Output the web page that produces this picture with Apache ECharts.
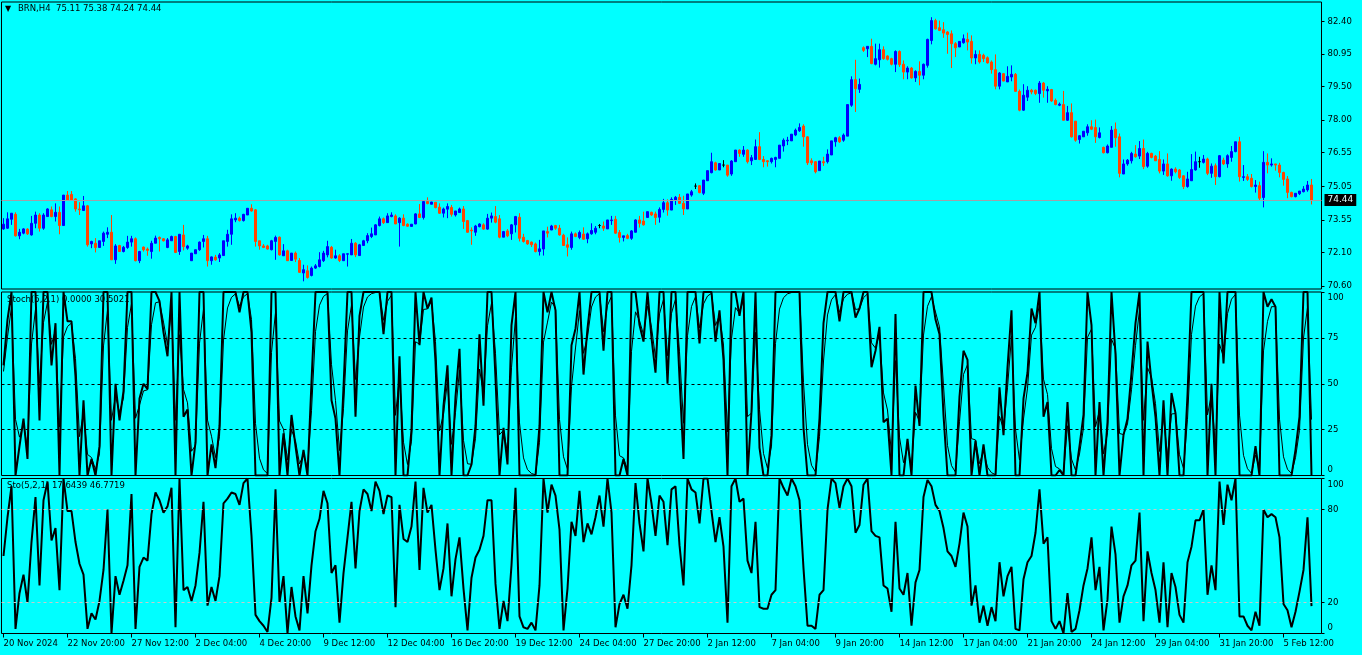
<!DOCTYPE html>
<html><head><meta charset="utf-8">
<script src="https://cdn.jsdelivr.net/npm/echarts@6.0.0/dist/echarts.min.js"></script>
<style>html,body{margin:0;padding:0;background:#00ffff;}#c{width:1362px;height:655px;}</style>
</head><body><div id="c"></div>
<script>
// [open, close, low, high] per H4 bar
const candles = [
[73.15,73.36,73.11,73.63],[73.18,73.60,73.15,73.89],[73.58,73.85,73.33,73.85],[73.80,72.84,72.81,73.89],[72.84,73.00,72.69,73.15],
[72.96,73.15,72.91,73.18],[73.14,72.93,72.88,73.18],[72.88,73.40,72.85,73.73],[73.40,73.77,73.18,73.92],[73.77,73.18,73.03,73.85],
[73.18,73.77,73.11,73.85],[73.70,74.04,73.70,74.07],[74.00,73.70,73.67,74.15],[73.70,73.89,73.48,74.29],[73.89,73.30,72.91,74.15],
[73.30,74.66,73.30,74.66],[74.66,74.44,74.41,74.84],[74.69,74.44,74.44,74.84],[74.49,74.04,73.92,74.52],[74.04,74.00,73.77,74.34],
[73.97,74.18,73.97,74.62],[74.18,72.44,72.36,74.22],[72.48,72.59,72.29,72.62],[72.51,72.32,72.10,72.74],[72.32,72.62,72.32,72.62],
[72.59,72.96,72.39,73.03],[72.91,73.00,72.74,73.22],[73.00,71.77,71.77,73.77],[71.77,72.39,71.59,72.47],[72.41,72.14,72.14,72.44],
[72.14,72.33,72.10,72.39],[72.32,72.56,72.26,72.84],[72.56,72.71,72.36,72.84],[72.71,71.73,71.70,72.77],[71.73,72.14,71.62,72.17],
[72.34,72.22,72.14,72.36],[72.25,72.19,71.95,72.32],[72.14,72.51,71.82,72.62],[72.51,72.74,72.51,72.85],[72.77,72.71,72.14,72.81],
[72.71,72.62,72.59,72.74],[72.32,72.66,72.29,72.74],[72.62,72.81,72.62,72.85],[72.81,72.10,72.07,72.84],[72.14,72.91,71.99,72.91],
[72.88,72.36,72.19,73.33],[72.29,72.39,72.22,72.44],[71.73,72.07,71.73,72.07],[72.04,72.22,72.04,72.22],[72.22,72.56,72.17,72.59],
[72.59,72.71,72.32,72.88],[72.71,71.73,71.47,72.84],[71.73,71.90,71.55,71.92],[71.89,71.77,71.73,71.99],[71.85,71.99,71.67,72.07],
[71.96,72.62,71.96,72.62],[72.59,72.91,72.36,73.11],[72.91,73.60,72.44,73.80],[73.55,73.63,73.45,73.85],[73.63,73.52,73.48,73.70],
[73.52,73.80,73.48,73.82],[73.77,74.07,73.77,74.07],[74.07,73.95,73.92,74.25],[74.00,72.59,72.36,74.04],[72.62,72.39,72.22,72.62],
[72.39,72.32,72.29,72.47],[72.39,72.25,72.22,72.44],[72.22,72.62,72.19,72.66],[72.59,72.77,71.77,72.85],[72.78,71.99,71.96,72.81],
[71.95,72.17,71.95,72.47],[72.17,71.73,71.73,72.22],[71.74,72.07,71.74,72.07],[72.07,71.80,71.67,72.14],[71.74,71.21,71.18,71.85],
[71.18,71.33,70.81,71.55],[71.28,70.98,70.93,71.52],[71.07,71.40,71.03,71.47],[71.40,71.50,71.36,71.58],[71.47,71.77,71.43,72.11],
[71.73,72.07,71.67,72.17],[71.99,72.36,71.88,72.62],[72.33,71.85,71.82,72.39],[71.85,71.95,71.82,72.22],[71.95,71.74,71.67,72.02],
[71.73,72.04,71.73,72.04],[72.02,72.04,71.47,72.05],[71.99,72.51,71.99,72.70],[72.51,71.99,71.89,72.56],[71.96,72.44,71.96,72.48],
[72.41,72.62,72.41,72.66],[72.62,72.85,72.51,72.96],[72.81,72.93,72.74,73.21],[72.88,73.33,72.88,73.36],[73.30,73.60,73.26,73.70],
[73.60,73.43,73.37,73.66],[73.43,73.73,73.43,73.85],[73.70,73.77,73.67,73.89],[73.73,73.37,73.37,73.80],[73.43,73.63,72.36,73.67],
[73.63,73.30,73.27,73.80],[73.36,73.27,73.24,73.40],[73.26,73.36,73.26,73.36],[73.37,73.82,73.36,73.85],[73.82,73.66,73.63,74.26],
[73.66,74.37,73.57,74.44],[74.37,74.28,74.25,74.56],[74.25,74.35,74.25,74.36],[74.34,74.10,74.07,74.34],[74.12,73.85,73.82,74.29],
[73.85,74.04,73.66,74.10],[74.03,74.15,73.63,74.29],[74.11,73.80,73.70,74.22],[73.77,73.95,73.70,73.95],[73.88,74.04,73.86,74.10],
[74.04,73.48,73.15,74.17],[73.52,73.00,72.98,73.55],[73.10,73.06,72.44,73.22],[73.00,73.28,72.84,73.33],[73.25,73.37,73.22,73.40],
[73.33,73.14,73.11,73.40],[73.14,73.63,73.11,73.82],[73.63,73.73,73.43,73.88],[73.70,73.45,73.40,74.17],[73.60,72.78,72.73,73.77],
[72.78,73.03,72.78,73.06],[73.06,72.84,72.78,73.14],[72.93,73.33,72.66,73.37],[73.33,73.70,72.99,73.73],[73.67,72.73,72.59,73.85],
[72.78,72.59,72.54,72.93],[72.63,72.48,72.44,72.66],[72.56,72.44,72.34,72.59],[72.48,72.14,72.10,72.54],[72.14,72.26,71.96,72.66],
[72.25,73.06,71.96,73.06],[73.03,72.96,72.77,73.25],[73.10,73.28,73.10,73.33],[73.30,73.18,73.11,73.33],[73.18,72.88,72.85,73.33],
[72.87,72.41,72.39,72.93],[72.44,72.33,71.92,72.77],[72.32,72.93,72.22,73.03],[72.93,72.81,72.78,72.99],[72.77,72.99,72.69,73.08],
[72.92,72.69,72.66,73.22],[72.71,72.93,72.51,72.99],[72.93,73.08,72.89,73.40],[73.00,73.18,72.91,73.28],[73.30,73.30,73.18,73.37],
[73.28,73.18,73.06,73.48],[73.15,73.55,73.15,73.55],[73.52,73.55,73.33,73.73],[73.58,72.96,72.93,73.73],[72.99,72.77,72.54,73.10],
[72.77,72.84,72.59,72.84],[72.85,72.73,72.69,72.93],[72.73,73.06,72.66,73.10],[73.00,73.55,72.99,73.58],[73.55,73.40,73.21,73.73],
[73.50,73.33,73.30,73.92],[73.66,73.92,73.66,73.92],[73.89,73.77,73.73,73.92],[73.82,73.66,73.33,73.92],[73.67,74.02,73.43,74.11],
[74.02,74.32,73.88,74.49],[74.32,73.99,73.74,74.47],[73.99,74.47,73.99,74.56],[74.44,74.56,74.22,74.62],[74.56,74.29,74.26,74.71],
[74.29,74.04,73.77,74.63],[74.04,74.71,74.04,74.71],[74.66,74.81,74.59,74.89],[75.06,75.06,74.93,75.18],[75.08,74.77,74.74,75.11],
[74.74,75.33,74.66,75.33],[75.30,75.75,75.30,75.75],[75.66,76.15,75.63,76.55],[76.10,75.78,75.75,76.15],[75.78,76.07,75.78,76.07],
[76.00,76.00,75.90,76.22],[76.00,75.55,75.48,76.00],[75.60,76.18,75.52,76.22],[76.15,76.67,76.15,76.67],[76.67,76.52,76.37,76.70],
[76.48,76.67,76.37,76.85],[76.67,76.15,76.07,76.70],[76.19,76.33,76.00,76.45],[76.25,76.82,76.25,77.14],[76.82,76.25,76.22,77.47],
[76.25,76.15,75.90,76.40],[76.19,76.15,75.93,76.22],[76.15,76.30,76.07,76.33],[76.25,76.34,75.90,76.37],[76.30,76.89,76.30,76.89],
[76.85,77.11,76.60,77.19],[77.08,77.11,76.89,77.26],[77.08,77.38,77.08,77.38],[77.34,77.56,77.29,77.63],[77.53,77.68,77.48,77.86],
[77.74,77.26,76.82,77.82],[77.26,76.10,76.00,77.29],[76.19,76.10,76.00,76.30],[76.15,75.70,75.63,76.18],[75.75,76.18,75.75,76.18],
[76.15,76.10,75.96,76.37],[76.15,76.49,76.07,76.70],[76.45,77.08,76.45,77.08],[77.04,77.22,76.82,77.26],[77.22,77.04,76.99,77.29],
[77.11,77.34,77.04,77.41],[77.29,78.70,77.29,78.70],[78.67,79.81,78.60,79.96],[79.81,79.41,78.37,80.70],[79.38,79.60,79.22,79.86],
[81.24,81.12,81.05,81.30],[81.19,81.30,80.82,81.30],[81.30,80.53,80.50,81.64],[80.50,80.75,80.45,81.42],[80.70,81.15,80.35,81.42],
[81.15,80.75,80.70,81.30],[80.87,80.72,80.67,80.90],[80.75,80.50,80.45,80.79],[80.50,81.07,80.15,81.12],[81.07,80.48,80.38,81.12],
[80.50,80.15,79.83,80.67],[80.15,80.33,79.83,80.41],[80.33,79.89,79.86,80.38],[79.89,80.18,79.71,80.23],[80.18,80.01,79.56,80.63],
[80.01,80.50,79.83,80.53],[80.45,81.61,80.35,81.64],[81.56,82.45,81.39,82.60],[82.45,82.08,82.05,82.53],[82.13,82.01,81.98,82.45],
[82.04,81.89,81.68,82.38],[81.94,81.83,80.97,81.98],[81.86,81.42,80.33,82.01],[81.42,81.24,80.82,81.49],[81.27,81.52,81.27,81.52],
[81.46,81.64,81.42,81.83],[81.61,81.49,81.12,81.91],[81.52,80.78,80.53,81.79],[80.78,80.94,80.50,81.12],[80.94,80.60,80.53,81.12],
[80.90,80.75,80.60,80.97],[80.79,80.56,80.53,80.85],[80.60,80.26,80.08,80.67],[80.26,79.52,79.38,80.94],[79.52,80.11,79.38,80.15],
[80.08,79.75,79.74,80.11],[79.71,79.96,79.71,80.41],[79.93,80.05,79.74,80.45],[80.05,79.29,79.26,80.11],[79.29,78.45,78.40,79.37],
[78.45,79.12,78.42,79.61],[79.03,79.34,78.86,79.52],[79.34,79.26,79.16,79.40],[79.34,79.19,79.12,79.37],[79.19,79.66,78.78,79.75],
[79.66,79.34,79.01,79.71],[79.31,79.38,78.78,79.52],[79.37,78.86,78.82,79.40],[78.89,78.70,78.67,78.97],[78.67,78.72,78.63,78.79],
[78.70,78.00,78.00,79.31],[78.00,78.34,77.97,78.64],[78.34,77.26,77.23,78.75],[77.96,77.11,77.04,77.96],[77.14,77.31,76.96,77.34],
[77.26,77.51,77.26,77.51],[77.44,77.71,77.31,77.82],[77.71,77.60,77.56,78.00],[77.68,77.26,76.99,78.03],[77.23,77.44,77.19,77.68],
[76.79,76.55,76.52,76.82],[76.55,76.85,76.52,76.92],[76.79,77.56,76.79,77.74],[77.60,77.22,76.82,77.90],[77.26,75.63,75.45,77.41],
[75.60,76.05,75.60,76.25],[76.05,76.22,75.97,76.27],[76.19,76.52,76.07,76.59],[76.49,76.37,76.33,76.89],[76.40,76.74,76.27,77.07],
[76.74,75.93,75.82,77.14],[75.95,76.52,75.88,76.59],[76.52,76.34,76.30,76.55],[76.40,76.19,76.18,76.45],[76.25,75.73,75.63,76.62],
[75.73,76.05,75.56,76.25],[76.05,75.52,75.48,76.52],[75.52,75.82,75.30,75.85],[75.82,75.70,75.63,75.90],[75.78,75.45,75.38,75.82],
[75.52,75.04,74.93,75.55],[75.04,75.38,74.99,75.70],[75.30,75.80,75.30,76.49],[75.78,76.15,75.75,76.60],[76.15,76.15,75.88,76.37],
[76.12,76.27,76.07,76.45],[76.27,75.63,75.55,76.33],[75.63,75.95,75.43,76.07],[75.97,75.48,75.11,76.07],[75.48,76.42,75.45,76.45],
[76.22,76.05,76.00,76.33],[76.05,76.42,75.88,76.48],[76.34,76.60,76.15,76.85],[76.60,77.04,76.57,77.04],[77.04,75.48,75.26,77.26],
[75.45,75.48,75.29,76.00],[75.48,75.36,75.29,75.60],[75.41,75.04,75.00,75.60],[75.04,75.11,74.77,75.33],[75.08,74.52,74.44,75.26],
[74.55,76.12,74.11,76.62],[76.12,76.00,75.63,76.52],[76.00,76.05,75.93,76.30],[76.05,76.00,75.75,76.05],[76.00,75.67,75.45,76.10],
[75.67,75.36,75.08,75.70],[75.38,74.78,74.52,75.51],[74.78,74.59,74.56,74.81],[74.59,74.74,74.56,74.74],[74.72,74.84,74.66,74.84],
[74.81,74.93,74.78,75.06],[74.89,75.11,74.81,75.29],[75.11,74.44,74.24,75.38]
];
// Stoch(5,2,1) pane: thick main line and thin signal line (values read per bar)
const stochMain = [60,85,100,0,16,31,9,100,100,30,100,100,60,83,0,100,84,84,54,0,41,0,9,0,16,100,100,0,50,30,
46,100,100,0,42,50,47,100,100,95,78,65,100,0,100,32,36,0,18,100,100,0,17,4,27,100,100,100,100,89,
100,100,78,0,0,0,0,100,100,0,23,0,33,16,0,14,0,51,100,100,100,100,41,31,0,48,100,100,32,87,
100,100,100,100,100,77,100,100,0,65,0,0,25,100,71,100,91,97,62,0,38,60,0,43,69,0,0,6,27,77,
38,100,100,53,0,26,6,82,100,0,0,0,0,0,27,100,89,100,90,0,0,0,71,80,100,55,80,100,100,100,
68,100,100,0,0,9,0,100,100,82,73,100,75,56,100,100,50,100,100,53,9,100,100,100,72,100,100,100,73,90,
63,0,100,100,87,100,0,35,100,15,0,0,22,100,100,100,100,100,100,100,26,0,0,0,31,83,100,100,100,84,
100,100,100,86,91,100,100,59,68,81,29,31,0,88,0,0,20,0,49,27,100,100,100,85,77,33,0,0,0,43,
68,63,0,19,0,17,0,0,0,48,22,59,90,0,0,42,56,91,83,100,32,40,0,0,3,0,40,0,0,16,
33,100,82,0,40,0,29,100,66,0,22,31,56,83,100,0,73,51,32,0,41,0,45,34,0,0,44,100,100,100,
100,0,50,0,100,61,100,100,100,0,0,0,0,16,0,100,92,96,92,0,0,0,0,14,32,100,100,0];
const stochSignal = [56.7,75.6,91.9,30.6,20.9,27.6,15.2,71.7,90.6,50.2,83.4,94.5,71.5,79.2,26.4,75.5,81.2,83.1,63.7,21.2,34.4,11.5,9.8,3.3,11.8,70.6,90.2,30.1,43.4,34.5,
42.2,80.7,93.6,31.2,38.4,46.1,46.7,82.2,94.1,94.7,83.6,71.2,90.4,30.1,76.7,46.9,39.6,13.2,16.4,72.1,90.7,30.2,21.4,9.8,21.3,73.8,91.3,97.1,99.0,92.3,
97.4,99.1,85.0,28.3,9.4,3.1,1.0,67.0,89.0,29.7,25.2,8.4,24.8,18.9,6.3,11.4,3.8,35.3,78.4,92.8,97.6,99.2,60.4,40.8,13.6,36.5,78.8,92.9,52.3,75.4,
91.8,97.3,99.1,99.7,99.9,84.6,94.9,98.3,32.8,54.3,18.1,6.0,18.7,72.9,71.6,90.5,90.8,94.9,73.0,24.3,33.4,51.1,17.0,34.3,57.4,19.1,6.4,6.1,20.0,58.0,
44.7,81.6,93.9,66.6,22.2,24.7,12.2,58.7,86.2,28.7,9.6,3.2,1.1,0.4,18.1,72.7,83.6,94.5,91.5,30.5,10.2,3.4,48.5,69.5,89.8,66.6,75.5,91.8,97.3,99.1,
78.4,92.8,97.6,32.5,10.8,9.6,3.2,67.7,89.2,84.4,76.8,92.3,80.8,64.3,88.1,96.0,65.3,88.4,96.1,67.4,28.5,76.2,92.1,97.4,80.5,93.5,97.8,99.3,81.8,87.3,
71.1,23.7,74.6,91.5,88.5,96.2,32.1,34.0,78.0,36.0,12.0,4.0,16.0,72.0,90.7,96.9,99.0,99.7,99.9,100,50.7,16.9,5.6,1.9,21.3,62.4,87.5,95.8,98.6,88.9,
96.3,98.8,99.6,90.5,90.8,96.9,99.0,72.3,69.4,77.1,45.0,35.7,11.9,62.6,20.9,7.0,15.7,5.2,34.4,29.5,76.5,92.2,97.4,89.1,81.0,49.0,16.3,5.4,1.8,29.3,
55.1,60.4,20.1,19.4,6.5,13.5,4.5,1.5,0.5,32.2,25.4,47.8,75.9,25.3,8.4,30.8,47.6,76.5,80.8,93.6,52.5,44.2,14.7,4.9,3.6,1.2,27.1,9.0,3.0,11.7,
25.9,75.3,79.8,26.6,35.5,11.8,23.3,74.4,68.8,22.9,22.3,28.1,46.7,70.9,90.3,30.1,58.7,53.6,39.2,13.1,31.7,10.6,33.5,33.8,11.3,3.8,30.6,76.9,92.3,97.4,
99.1,33.0,44.3,14.8,71.6,64.5,88.2,96.1,98.7,32.9,11.0,3.7,1.2,11.1,3.7,67.9,84.0,92.0,92.0,30.7,10.2,3.4,1.1,9.7,24.6,74.9,91.6,30.5];
// Sto(5,2,1) pane: main line (values read per bar)
const stoMain = [50,75,95,3,26,38,20,59,88,31,86,98,60,68,28,100,79,79,59,45,38,3,13,9,21,41,80,0,37,25,
34,44,90,3,43,49,47,77,91,86,78,82,94,4,100,28,30,21,31,52,85,18,30,21,37,84,87,91,90,83,
97,100,63,12,8,5,1,23,93,20,37,0,30,11,2,37,13,44,66,74,92,84,39,44,7,39,62,85,42,79,
93,90,79,98,92,77,89,88,17,83,61,59,69,98,41,94,78,83,54,28,42,71,24,48,62,29,2,36,49,54,
63,86,86,32,3,21,8,44,94,11,4,3,7,2,31,100,78,96,89,67,2,29,72,63,92,59,71,64,75,89,
69,100,78,4,19,25,16,44,97,71,53,100,84,63,89,85,57,93,95,57,31,100,93,91,71,100,100,79,59,75,
56,7,95,100,85,87,47,39,72,17,16,16,25,28,100,94,89,100,95,86,42,5,5,3,25,28,80,100,97,81,
95,100,95,65,70,96,100,66,63,62,31,29,14,72,29,25,39,5,33,41,88,99,95,83,79,68,53,50,43,58,
78,69,18,31,7,18,5,17,8,46,24,37,43,3,2,35,46,50,65,93,58,62,8,3,8,0,26,1,3,15,
31,42,62,28,43,2,22,69,51,7,24,31,44,47,78,8,53,39,28,7,46,4,39,30,12,7,46,56,73,73,
80,25,44,28,98,70,96,86,100,11,11,5,2,14,5,80,75,77,75,62,19,15,4,14,27,41,75,17.64];
const timeLabels = ["20 Nov 2024","22 Nov 20:00","27 Nov 12:00","2 Dec 04:00","4 Dec 20:00","9 Dec 12:00","12 Dec 04:00","16 Dec 20:00","19 Dec 12:00","24 Dec 04:00","27 Dec 20:00","2 Jan 12:00","7 Jan 04:00","9 Jan 20:00","14 Jan 12:00","17 Jan 04:00","21 Jan 20:00","24 Jan 12:00","29 Jan 04:00","31 Jan 20:00","5 Feb 12:00"];
const priceTicks = [70.60,72.10,73.55,75.05,76.55,78.00,79.50,80.95,82.40];
const stochTicks = [0,25,50,75,100];
const stochLevels = [25,50,75];
const stoTicks = [0,20,80,100];
const stoLevels = [20,80];
const lastPrice = 74.44;
const barsPerLabel = 16;
const emptyBars = 2;

const nBars = candles.length + emptyBars;
const cats = Array.from({length:nBars},(_,i)=>String(i));
const FONT = 'DejaVu Sans';
const fs = 8.5;

const chart = echarts.init(document.getElementById('c'), null, {renderer:'canvas'});
const plotLeft = 1.5, plotW = 1320;
function xAx(gi, showLabels){
  return {type:'category', gridIndex:gi, data:cats, boundaryGap:true,
    axisLine:{show:false}, splitLine:{show:false},
    axisTick:{show:showLabels, interval:barsPerLabel-1, alignWithLabel:true, length:4, lineStyle:{color:'#000'}},
    axisLabel:{show:showLabels, interval:barsPerLabel-1, align:'left', margin:6, color:'#000', fontFamily:FONT, fontSize:fs,
      formatter:(v,i)=> (i%barsPerLabel===0 && timeLabels[i/barsPerLabel]) ? timeLabels[i/barsPerLabel] : ''}};
}
const rich = {d:{padding:[12,0,0,0],fontFamily:FONT,fontSize:fs,color:'#000'}, u:{padding:[0,0,12,0],fontFamily:FONT,fontSize:fs,color:'#000'}};
function yOsc(gi, ticks){
  return {type:'value', gridIndex:gi, position:'right', min:0, max:100, splitLine:{show:false},
    axisLine:{show:false},
    axisTick:{show:true, customValues:ticks, length:3, lineStyle:{color:'#000'}},
    axisLabel:{customValues:ticks, margin:6, color:'#000', fontFamily:FONT, fontSize:fs, rich:rich,
      formatter:v=> v===100?'{d|100}':(v===0?'{u|0}':String(v))}};
}
function levelLines(levels, color){
  return {silent:true, symbol:['none','none'], animation:false, label:{show:false},
    lineStyle:{color:color, type:[3,3], width:1}, data:levels.map(l=>({yAxis:l}))};
}
const option = {
  backgroundColor:'#00ffff', animation:false,
  grid:[
    {left:plotLeft, top:2, width:plotW, height:287, show:true, borderColor:'#000', borderWidth:1, backgroundColor:'transparent'},
    {left:plotLeft, top:292, width:plotW, height:183.5, show:true, borderColor:'#000', borderWidth:1},
    {left:plotLeft, top:478.5, width:plotW, height:155, show:true, borderColor:'#000', borderWidth:1}
  ],
  xAxis:[xAx(0,false), xAx(1,false), xAx(2,true)],
  yAxis:[
    {type:'value', gridIndex:0, position:'right', min:70.467, max:83.279, splitLine:{show:false}, axisLine:{show:false},
      axisTick:{show:true, customValues:priceTicks, length:3, lineStyle:{color:'#000'}},
      axisLabel:{customValues:priceTicks, margin:6, color:'#000', fontFamily:FONT, fontSize:fs, formatter:v=>v.toFixed(2)}},
    yOsc(1, stochTicks), yOsc(2, stoTicks)
  ],
  graphic:[
    {type:'text', left:5, top:5, z:0, style:{text:'▼', font:'8px "DejaVu Sans"', fill:'#000'}},
    {type:'text', left:18, top:4, z:0, style:{text:'BRN,H4  75.11 75.38 74.24 74.44', font:fs+'px "'+FONT+'"', fill:'#000'}},
    {type:'text', left:7, top:295, z:0, style:{text:'Stoch(5,2,1) 0.0000 30.5021', font:fs+'px "'+FONT+'"', fill:'#000'}},
    {type:'text', left:7, top:481, z:0, style:{text:'Sto(5,2,1) 17.6439 46.7719', font:fs+'px "'+FONT+'"', fill:'#000'}}
  ],
  series:[
    {type:'candlestick', xAxisIndex:0, yAxisIndex:0, data:candles, barWidth:2,
      itemStyle:{color:'#0000ff', color0:'#ff4500', borderColor:'#0000ff', borderColor0:'#ff4500', borderColorDoji:'#000000', borderWidth:1},
      markLine:{silent:true, symbol:['none','none'], animation:false,
        lineStyle:{color:'#a0a0a8', type:'solid', width:1},
        label:{position:'end', distance:3, formatter:p=>p.value.toFixed(2), backgroundColor:'#000', color:'#e0ffff',
          padding:[2,3,1,3], fontFamily:FONT, fontSize:fs+0.5},
        data:[{yAxis:lastPrice}]}},
    {type:'line', xAxisIndex:1, yAxisIndex:1, data:stochSignal, showSymbol:false, lineStyle:{color:'#000', width:1}, itemStyle:{color:'#000'},
      markLine:levelLines(stochLevels,'#000')},
    {type:'line', xAxisIndex:1, yAxisIndex:1, data:stochMain, showSymbol:false, lineStyle:{color:'#000', width:2}, itemStyle:{color:'#000'}},
    {type:'line', xAxisIndex:2, yAxisIndex:2, data:stoMain, showSymbol:false, lineStyle:{color:'#000', width:2}, itemStyle:{color:'#000'},
      markLine:levelLines(stoLevels,'#c8c8c8')}
  ]
};
chart.setOption(option);
</script></body></html>
